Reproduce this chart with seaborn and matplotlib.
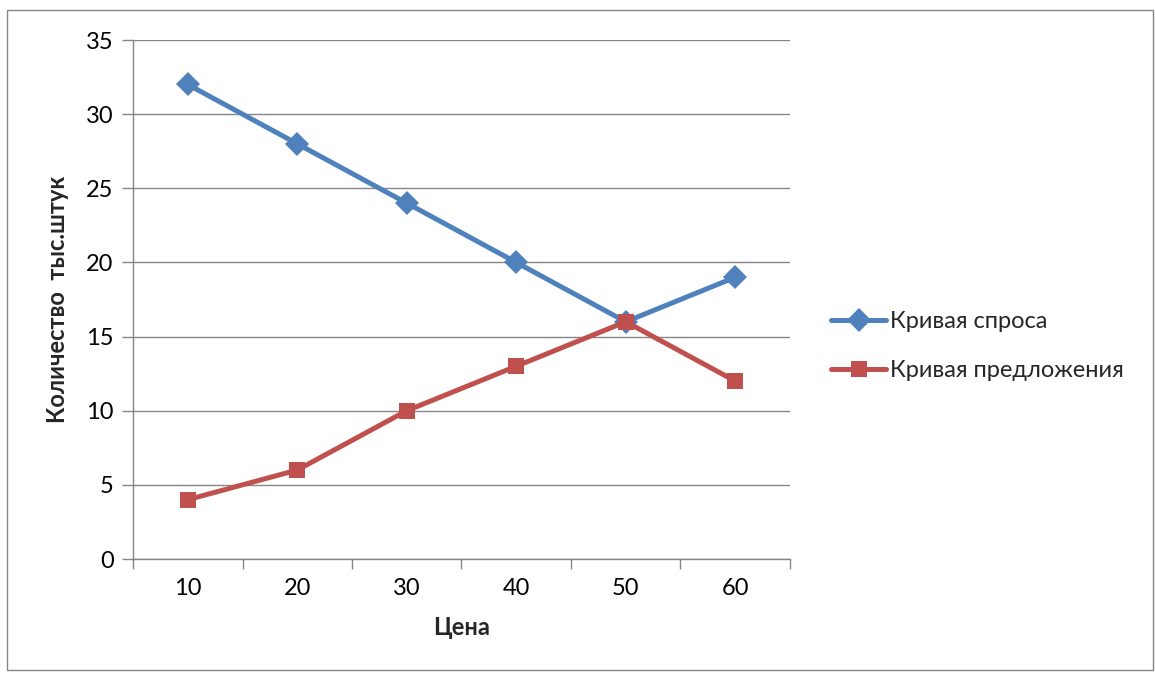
import matplotlib
matplotlib.use("Agg")
import matplotlib.pyplot as plt
import seaborn as sns
import pandas as pd
from matplotlib.patches import Rectangle

prices = ["10", "20", "30", "40", "50", "60"]
demand = [32, 28, 24, 20, 16, 19]
supply = [4, 6, 10, 13, 16, 12]
series_names = ["Кривая спроса", "Кривая предложения"]

sns.set_theme(style="white")
plt.rcParams['font.family'] = ['Lato', 'DejaVu Sans']

pos = list(range(len(prices)))
df = pd.DataFrame({
    "pos": pos * 2,
    "value": demand + supply,
    "series": [series_names[0]] * len(prices) + [series_names[1]] * len(prices),
})

fig = plt.figure(figsize=(11.55, 6.75), dpi=100)
ax = fig.add_axes([133/1155, 1 - 559/675, (790-133)/1155, (559-40)/675])

palette = {series_names[0]: "#4F81BD", series_names[1]: "#C0504D"}
markers = {series_names[0]: "D", series_names[1]: "s"}
sns.lineplot(data=df, x="pos", y="value", hue="series", style="series",
             markers=markers, dashes=False, palette=palette, ax=ax,
             linewidth=3.6, markersize=12, markeredgewidth=0)

FS = 17
ax.set_xlim(-0.5, len(prices) - 0.5)
ax.set_ylim(0, 35)
ax.set_yticks(range(0, 36, 5))
ax.set_xticks(pos)
ax.set_xticklabels(prices)
ax.set_xticks([p - 0.5 for p in range(len(prices) + 1)], minor=True)
ax.tick_params(axis='x', which='major', length=0, pad=14, labelsize=FS, colors='black')
ax.tick_params(axis='x', which='minor', length=7, width=1, color='#868686', bottom=True)
ax.tick_params(axis='y', which='major', length=8, width=1, color='#868686', left=True, labelsize=FS, pad=6, labelcolor='black')
ax.yaxis.grid(True, color='#868686', linewidth=1)
ax.xaxis.grid(False)
for s in ['top', 'right']:
    ax.spines[s].set_visible(False)
for s in ['left', 'bottom']:
    ax.spines[s].set_color('#868686')
    ax.spines[s].set_linewidth(1)

ax.set_xlabel("Цена", fontsize=FS, fontweight='bold', labelpad=12)
ax.set_ylabel("Количество  тыс.штук", fontsize=FS, fontweight='bold', labelpad=12)

leg = ax.legend(loc='center left', bbox_to_anchor=(1.030, 0.41), frameon=False,
                fontsize=FS, handlelength=2.35, handletextpad=0.15, labelspacing=1.2)

fig.patches.append(Rectangle((7/1155, 1 - 670/675), 1146/1155, 660/675,
                             transform=fig.transFigure, fill=False,
                             edgecolor='#868686', linewidth=1))

fig.savefig("out.png", dpi=100)
